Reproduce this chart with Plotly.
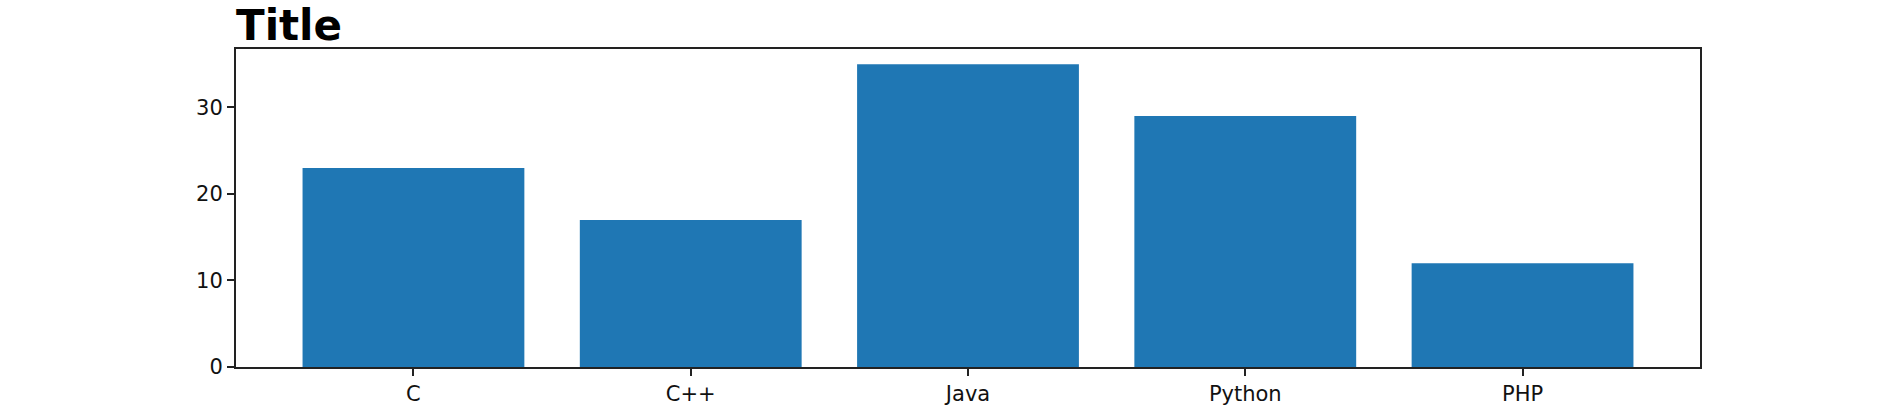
import plotly.graph_objects as go

# data
languages = ["C", "C++", "Java", "Python", "PHP"]
counts = [23, 17, 35, 29, 12]
y_ticks = [0, 10, 20, 30]

fig = go.Figure()
fig.add_trace(
    go.Bar(
        x=list(range(len(languages))),
        y=counts,
        width=0.8,
        marker=dict(color="#1f77b4", line=dict(width=0)),
    )
)

axis_common = dict(
    showline=True,
    linecolor="#222222",
    linewidth=2,
    mirror=True,
    ticks="outside",
    ticklen=7,
    tickwidth=2,
    tickcolor="#222222",
    showgrid=False,
    zeroline=False,
    automargin=False,
    tickfont=dict(family="DejaVu Sans", size=21, color="#111111"),
)

fig.update_xaxes(
    range=[-0.64, 4.64],
    tickvals=list(range(len(languages))),
    ticktext=languages,
    **axis_common,
)
fig.update_yaxes(
    range=[0, 36.75],
    tickvals=y_ticks,
    **axis_common,
)

fig.update_layout(
    width=1888,
    height=412,
    margin=dict(l=236, r=188, t=49, b=45),
    plot_bgcolor="white",
    paper_bgcolor="white",
    showlegend=False,
    title=dict(
        text="<b>Title</b>",
        font=dict(family="DejaVu Sans", size=42, color="black"),
        xref="paper",
        x=0,
        xanchor="left",
        yref="paper",
        y=1,
        yanchor="bottom",
        pad=dict(b=9, l=0),
        automargin=False,
    ),
)

# drop the default 8px body margin so the figure fills the window exactly
fig.write_html(
    "out.html",
    config={"displayModeBar": False},
    post_script="document.body.style.margin = '0';",
)
